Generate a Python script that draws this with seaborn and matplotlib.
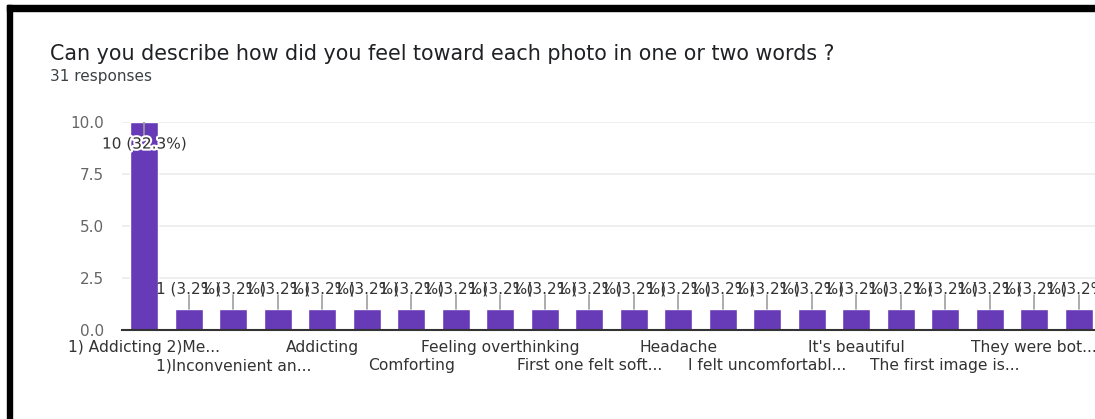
import matplotlib
matplotlib.use("Agg")
import numpy as np
import pandas as pd
import matplotlib.pyplot as plt
import matplotlib.patheffects as pe
from matplotlib.patches import Rectangle
import seaborn as sns

# -------- DATA --------
title = "Can you describe how did you feel toward each photo in one or two words ?"
subtitle = "31 responses"
total_responses = 31
bar_ids = list(range(22))
counts = [10] + [1] * 21
# only every other category label is shown in the chart
tick_labels = [
    "1) Addicting 2)Me...",
    "1)Inconvenient an...",
    "Addicting",
    "Comforting",
    "Feeling overthinking",
    "First one felt soft...",
    "Headache",
    "I felt uncomfortabl...",
    "It's beautiful",
    "The first image is...",
    "They were bot...",
]
y_ticks = [0, 2.5, 5, 7.5, 10]

# -------- STYLE --------
bar_color = "#673ab7"
text_dark = "#202124"

df = pd.DataFrame({"Response": bar_ids, "Count": counts})

sns.set_style("white")
plt.rcParams["font.family"] = ["DejaVu Sans"]

W, H = 1095, 419
fig = plt.figure(figsize=(W / 100, H / 100), dpi=100)
fig.patch.set_facecolor("white")

# axes box in pixels: x 122 -> 1101 (clipped on the right), y 122 -> 330
ax = fig.add_axes([122 / W, 1 - 330 / H, (1101 - 122) / W, (330 - 122) / H])

sns.barplot(data=df, x="Response", y="Count", color=bar_color, width=0.62,
            saturation=1, ax=ax, zorder=2)

ax.set_xlim(-0.5, len(bar_ids) - 0.5)
ax.set_ylim(0, 10)
ax.set_yticks(y_ticks)
ax.set_yticklabels([f"{t:.1f}" for t in y_ticks], fontsize=11, color="#666666")
ax.yaxis.grid(True, color="#ebebeb", linewidth=1.2, zorder=0)
ax.set_axisbelow(True)

tick_pos = bar_ids[::2]
ax.set_xticks(tick_pos)
ax.set_xticklabels([lab if i % 2 == 0 else "\n" + lab for i, lab in enumerate(tick_labels)],
                   fontsize=11.2, color="#333333", linespacing=1.3)
ax.tick_params(axis="both", length=0)
ax.tick_params(axis="x", pad=7)
ax.tick_params(axis="y", pad=13)
ax.set_xlabel("")
ax.set_ylabel("")

for side in ["top", "right", "left"]:
    ax.spines[side].set_visible(False)
ax.spines["bottom"].set_color("#333333")
ax.spines["bottom"].set_linewidth(1.5)
ax.spines["bottom"].set_zorder(3)

# -------- BAR LABELS with leader lines --------
for x, c in zip(bar_ids, counts):
    label = f"{c} ({c / total_responses * 100:.1f}%)"
    if c >= 5:
        ax.plot([x, x], [c, c - 0.85], color="#9e9e9e", linewidth=1.2, zorder=3)
        ax.text(x, c - 1.06, label, ha="center", va="center", fontsize=11,
                color="#333333", zorder=4,
                path_effects=[pe.withStroke(linewidth=3, foreground="white")])
    else:
        ax.plot([x, x], [c, c + 0.68], color="#9e9e9e", linewidth=1.2, zorder=3)
        ax.text(x, c + 0.95, label, ha="center", va="center", fontsize=11,
                color="#333333", zorder=4)

# -------- TITLE --------
fig.text(50 / W, 1 - 54 / H, title, fontsize=14.9, color=text_dark, va="center", ha="left")
fig.text(50 / W, 1 - 77 / H, subtitle, fontsize=11, color="#3c4043", va="center", ha="left")

# -------- SCREENSHOT FRAME --------
fig.patches.append(Rectangle((7 / W, 1 - 11 / H), 1, 6 / H, transform=fig.transFigure,
                             color="black", zorder=10))
fig.patches.append(Rectangle((7 / W, 0), 5 / W, 1 - 5 / H, transform=fig.transFigure,
                             color="black", zorder=10))

fig.savefig("out.png", dpi=100)
